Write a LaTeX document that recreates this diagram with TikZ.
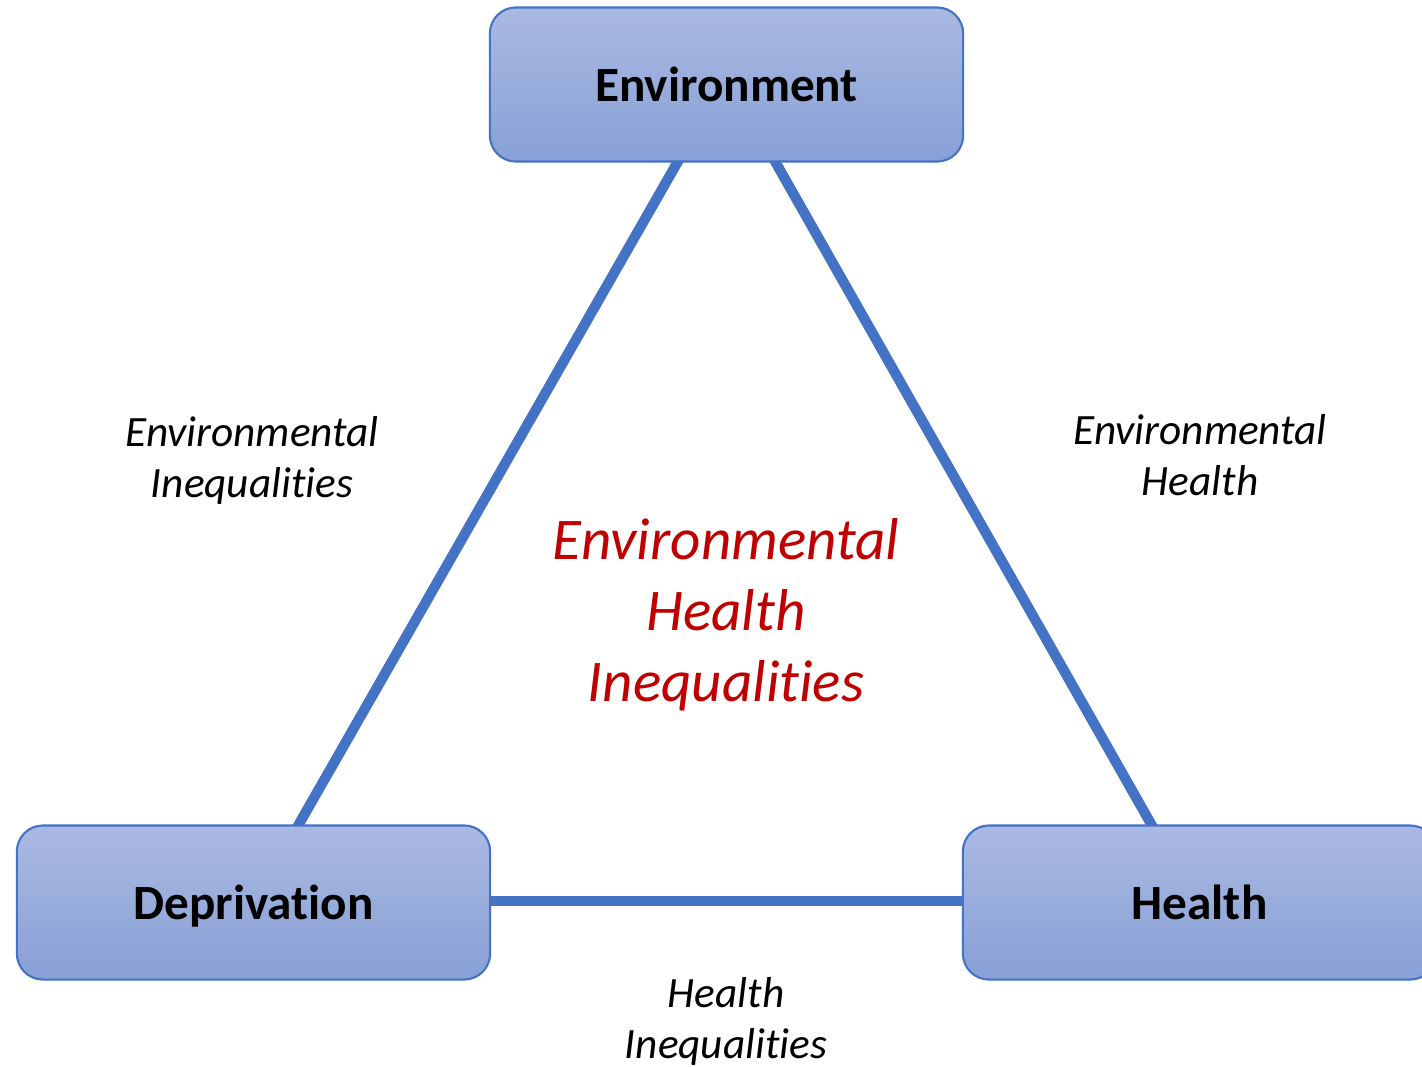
\documentclass[tikz,border=0pt]{standalone}
\usepackage{fontspec}
\setmainfont[Ligatures=NoCommon]{Carlito}
\usetikzlibrary{backgrounds}
\definecolor{linkblue}{RGB}{68,114,196}
\definecolor{boxtop}{RGB}{170,185,226}
\definecolor{boxbot}{RGB}{136,160,214}
\definecolor{keyred}{RGB}{192,0,0}
\tikzset{
  topic/.style={draw=linkblue, line width=0.6pt, rounded corners=0.26cm,
    top color=boxtop, bottom color=boxbot,
    minimum width=4.73cm, minimum height=1.54cm, inner sep=0pt,
    text height=0.33cm, text depth=0pt,
    font=\fontsize{14pt}{17pt}\selectfont\bfseries},
  link/.style={draw=linkblue, line width=2.9pt},
  sidenote/.style={align=center, inner sep=0pt,
    font=\fontsize{12.3pt}{14.5pt}\selectfont\itshape},
  keynote/.style={align=center, inner sep=0pt, text=keyred,
    font=\fontsize{16.8pt}{20.2pt}\selectfont\itshape}
}
\begin{document}
\begin{tikzpicture}[x=0.01cm, y=-0.01cm]
  \useasboundingbox (0,0) rectangle (1422,1066);
  \clip (0,0) rectangle (1422,1066);

  % the three topic boxes
  \node[topic] (env) at (726.5,84.5) {Environment};
  \node[topic] (dep) at (253.5,902.5) {Deprivation};
  \node[topic] (hea) at (1199.5,902.5) {Health};

  % links between the topics, kept behind the boxes
  \begin{scope}[on background layer]
    \draw[link] ([xshift=-0.435cm,yshift=0.1cm]env.south) -- ([xshift=0.395cm,yshift=-0.1cm]dep.north);
    \draw[link] ([xshift=0.435cm,yshift=0.1cm]env.south) -- ([xshift=-0.425cm,yshift=-0.1cm]hea.north);
    \draw[link] ([yshift=0.015cm]dep.east) -- ([yshift=0.015cm]hea.west);
  \end{scope}

  % labels of the links
  \node[sidenote] (ei) at (252,460) {Environmental\\Inequalities};
  \node[sidenote] (eh) at (1200,455) {Environmental\\Health};
  \node[sidenote] (hi) at (726,1021) {Health\\Inequalities};

  % the central theme
  \node[keynote] (ehi) at (726,615) {Environmental\\Health\\Inequalities};
\end{tikzpicture}
\end{document}
